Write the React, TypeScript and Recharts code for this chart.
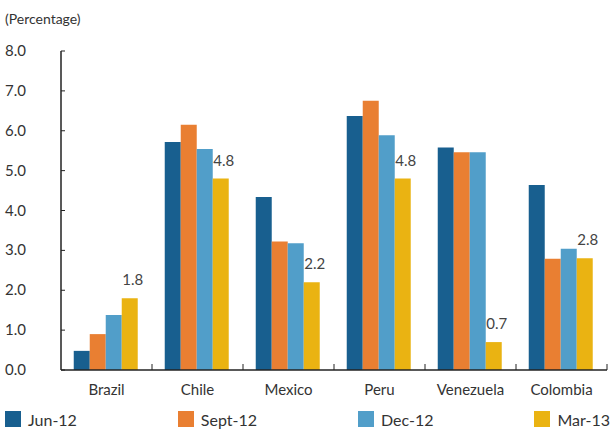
import { BarChart, Bar, XAxis, YAxis, LabelList } from "recharts";

// categories and series values
const countries = ["Brazil", "Chile", "Mexico", "Peru", "Venezuela", "Colombia"];
const jun12 = [0.48, 5.72, 4.34, 6.37, 5.58, 4.64];
const sept12 = [0.9, 6.15, 3.22, 6.75, 5.46, 2.79];
const dec12 = [1.38, 5.54, 3.18, 5.89, 5.46, 3.04];
const mar13 = [1.8, 4.8, 2.2, 4.8, 0.7, 2.8];
const yTicks = [0, 1, 2, 3, 4, 5, 6, 7, 8];

const series = [
  { key: "jun12", name: "Jun-12", color: "#185f8f" },
  { key: "sept12", name: "Sept-12", color: "#e97f32" },
  { key: "dec12", name: "Dec-12", color: "#519ec9" },
  { key: "mar13", name: "Mar-13", color: "#eab312" },
];

const data = countries.map((country, i) => ({
  country,
  jun12: jun12[i],
  sept12: sept12[i],
  dec12: dec12[i],
  mar13: mar13[i],
}));

const WIDTH = 614;
const HEIGHT = 429;
const PLOT_LEFT = 61;
const PLOT_RIGHT = 607;
const PLOT_BOTTOM = 370;
const BAND = (PLOT_RIGHT - PLOT_LEFT) / countries.length;
const FONT = "Lato, 'Open Sans', sans-serif";
const TEXT = "#333";

// y ticks: label flush left, short tick pointing into the plot
const YTick = ({ y, payload }: any) => (
  <g>
    <line x1={PLOT_LEFT} x2={PLOT_LEFT + 4} y1={y} y2={y} stroke="#222" />
    <text x={5} y={y} dy={5} fontSize={15} fill={TEXT} fontFamily={FONT}>
      {Number(payload.value).toFixed(1)}
    </text>
  </g>
);

// x ticks: centred label, tick mark on the right edge of each band
const XTick = ({ x, payload }: any) => (
  <g>
    <line
      x1={x + BAND / 2}
      x2={x + BAND / 2}
      y1={PLOT_BOTTOM}
      y2={PLOT_BOTTOM - 6}
      stroke="#222"
    />
    <text x={x} y={395} textAnchor="middle" fontSize={15} fill={TEXT} fontFamily={FONT}>
      {payload.value}
    </text>
  </g>
);

export default function App() {
  return (
    <div style={{ position: "absolute", left: 0, top: 0, width: WIDTH, height: HEIGHT, background: "#fff" }}>
      <div
        style={{
          position: "absolute",
          left: 5,
          top: 10,
          fontSize: 14,
          color: TEXT,
          fontFamily: FONT,
        }}
      >
        (Percentage)
      </div>
      <BarChart
        width={WIDTH}
        height={HEIGHT}
        data={data}
        margin={{ top: 51, right: WIDTH - PLOT_RIGHT, left: 0, bottom: 0 }}
        barCategoryGap="14%"
        barGap={0}
      >
        <XAxis
          dataKey="country"
          height={HEIGHT - PLOT_BOTTOM}
          axisLine={{ stroke: "#222", strokeWidth: 1.5 }}
          tickLine={false}
          tick={<XTick />}
          interval={0}
        />
        <YAxis
          width={PLOT_LEFT}
          domain={[0, 8]}
          ticks={yTicks}
          axisLine={{ stroke: "#222", strokeWidth: 1.5 }}
          tickLine={false}
          tick={<YTick />}
        />
        {series.map((s) => (
          <Bar key={s.key} dataKey={s.key} name={s.name} fill={s.color} isAnimationActive={false}>
            {s.key === "mar13" && (
              <LabelList
                dataKey={s.key}
                position="top"
                offset={13}
                dx={3}
                fontSize={15}
                fill="#444"
                fontFamily={FONT}
                formatter={(v: any) => Number(v).toFixed(1)}
              />
            )}
          </Bar>
        ))}
      </BarChart>
      <div
        style={{
          position: "absolute",
          left: 5,
          top: 411,
          width: 605,
          display: "flex",
          justifyContent: "space-between",
          fontFamily: FONT,
          fontSize: 16,
          color: TEXT,
        }}
      >
        {series.map((s) => (
          <div key={s.key} style={{ display: "flex", alignItems: "flex-start" }}>
            <span style={{ width: 16, height: 16, background: s.color, display: "inline-block" }} />
            <span style={{ marginLeft: 7, lineHeight: "16px", marginTop: 1 }}>{s.name}</span>
          </div>
        ))}
      </div>
    </div>
  );
}
